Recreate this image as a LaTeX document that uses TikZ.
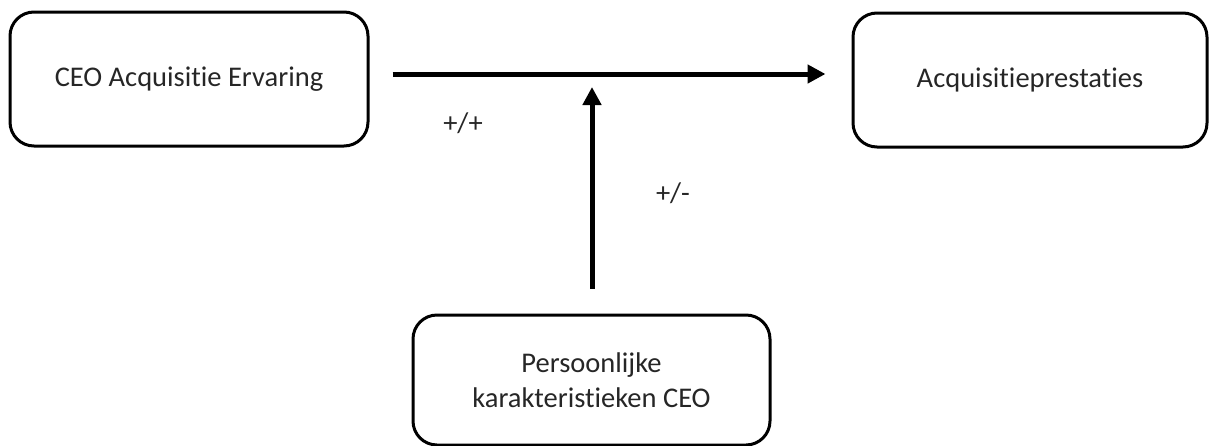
\documentclass[tikz,border=0pt]{standalone}
\usepackage{fontspec}
\setmainfont{Carlito}[Ligatures={NoCommon}]
\usetikzlibrary{arrows.meta,calc}
\tikzset{
  box/.style={draw=black, line width=3pt, rounded corners=24pt, align=center,
    inner sep=0pt, font=\fontsize{28.5}{35}\selectfont, text=black!85},
  conn/.style={line width=5pt, -{Triangle[length=18pt,width=18pt]}},
  lbl/.style={inner sep=0pt, font=\fontsize{28.5}{35}\selectfont, text=black!85}
}
\begin{document}
\begin{tikzpicture}[x=1pt,y=-1pt]
\useasboundingbox (0,0) rectangle (1210,445);
\node[box, minimum width=358pt, minimum height=134pt] (ceo) at (189,79) {CEO Acquisitie Ervaring};
\node[box, minimum width=354pt, minimum height=134pt] (perf) at (1030,80) {Acquisitieprestaties};
\node[box, minimum width=357pt, minimum height=130pt] (pers) at (591.5,380) {Persoonlijke\\karakteristieken CEO};
\coordinate (hs) at ($(ceo.east)+(23,-5)$);
\coordinate (he) at ($(perf.west)+(-26,-6)$);
\draw[conn] (hs) -- (he);
\coordinate (vs) at ($(pers.north)+(0.5,-25)$);
\coordinate (ve) at (592,87);
\draw[conn] (vs) -- (ve);
\node[lbl] (l1) at (463,123) {+/+};
\node[lbl] (l2) at (673,193) {+/-};
\end{tikzpicture}
\end{document}
